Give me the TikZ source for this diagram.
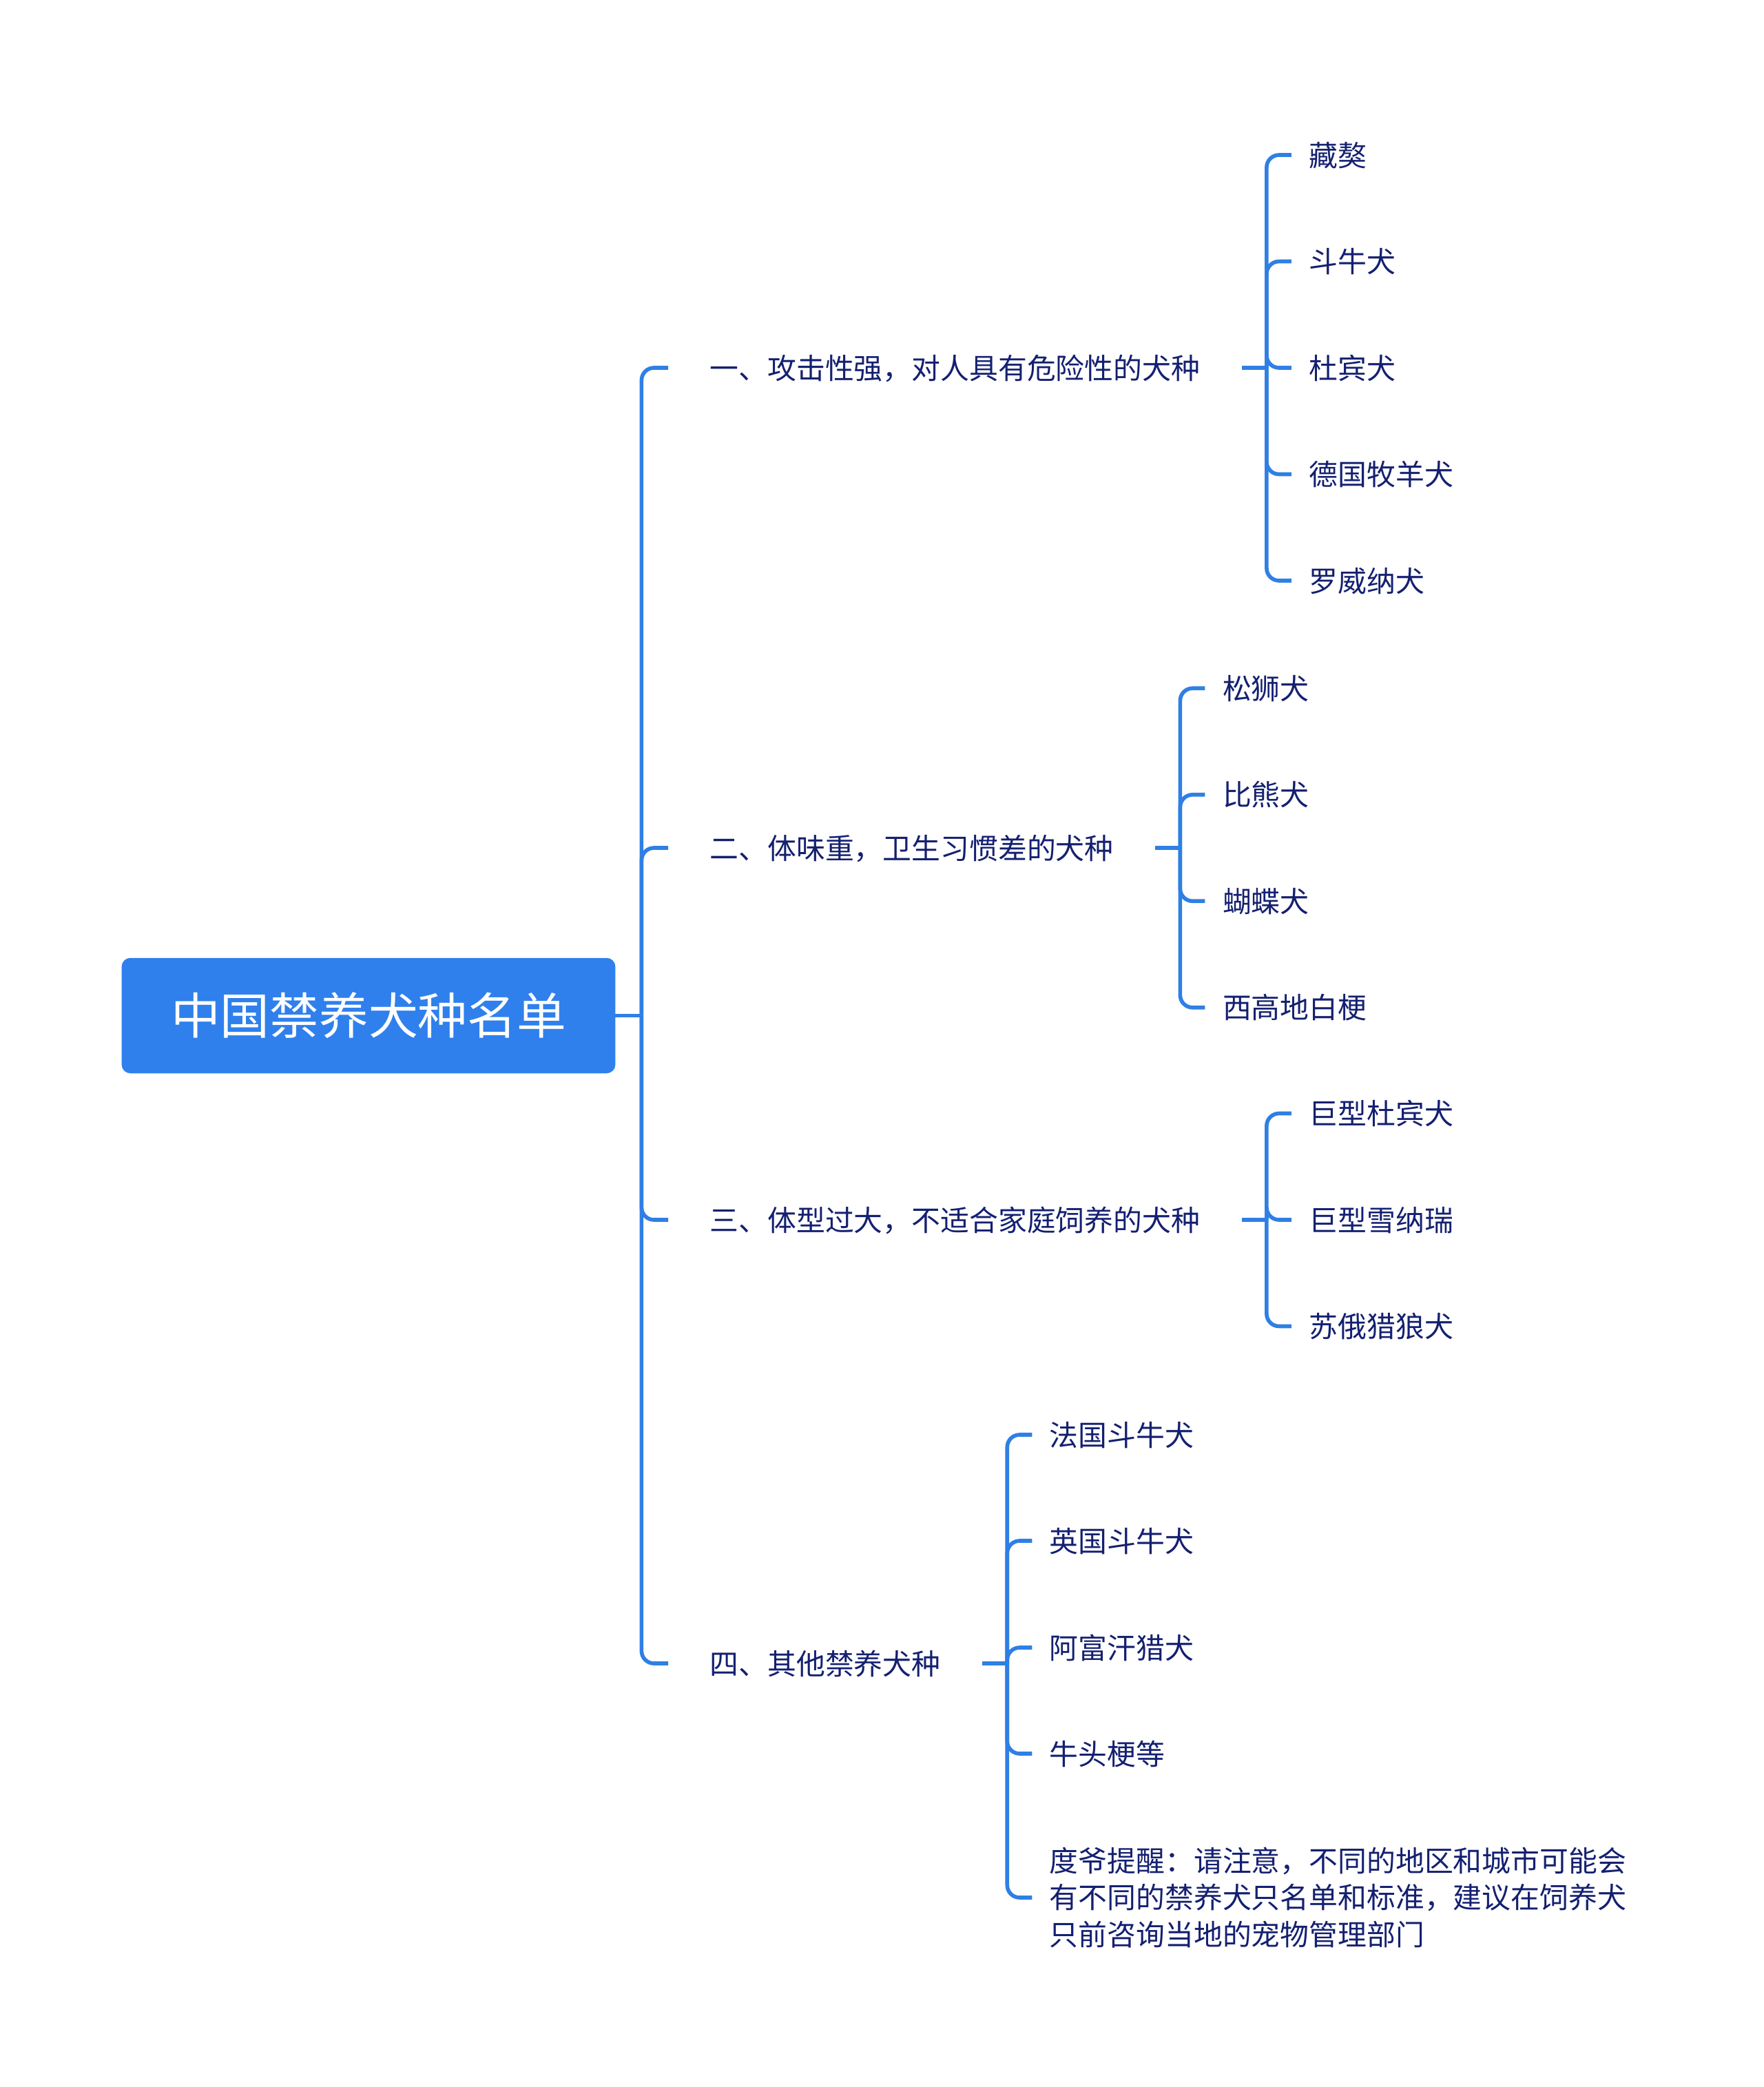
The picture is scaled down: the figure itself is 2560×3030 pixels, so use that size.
\documentclass[tikz,border=0pt]{standalone}
\usepackage{fontspec}
\newfontfamily\cjk{Noto Sans CJK SC}
\usetikzlibrary{positioning,calc}
\definecolor{linkblue}{RGB}{47,127,228}
\definecolor{rootblue}{RGB}{47,128,237}
\definecolor{inkblue}{RGB}{20,32,112}

\begin{document}
\begin{tikzpicture}[
            x=0.01cm, y=-0.01cm,
            root/.style={draw=rootblue, fill=rootblue, rounded corners=0.12cm,
                       minimum width=7.15cm, minimum height=1.66cm, text=white,
                       text height=18pt, text depth=2.4pt,
                       font=\cjk\fontsize{20.4}{24}\selectfont},
            topic/.style={anchor=west, inner xsep=0.6cm, text=inkblue,
                       text height=10.5pt, text depth=1.4pt,
                       font=\cjk\fontsize{11.9}{15.2}\selectfont},
            leaf/.style={anchor=west, inner xsep=0.25cm, text=inkblue,
                       text height=10.5pt, text depth=1.4pt,
                       font=\cjk\fontsize{11.9}{15.2}\selectfont},
            note/.style={anchor=west, inner xsep=0.25cm, text=inkblue, align=left,
                       font=\cjk\fontsize{11.9}{15.2}\selectfont},
            link/.style={draw=linkblue, line width=1.6pt, rounded corners=0.18cm}
        ]
            \useasboundingbox (0,0) rectangle (2560,3030);

            \node[root] (root) at (535,1474.5) {中国禁养犬种名单};
            \node[topic] (g1) at (970,534) {一、攻击性强，对人具有危险性的犬种};
            \node[topic] (g2) at (970,1231) {二、体味重，卫生习惯差的犬种};
            \node[topic] (g3) at (970,1771) {三、体型过大，不适合家庭饲养的犬种};
            \node[topic] (g4) at (970,2415) {四、其他禁养犬种};

            % junctions
            \coordinate (t0) at ($(root.east)+(38,0)$);
            \coordinate (j1) at ($(g1.east)+(36,0)$);
            \coordinate (j2) at ($(g2.east)+(36,0)$);
            \coordinate (j3) at ($(g3.east)+(36,0)$);
            \coordinate (j4) at ($(g4.east)+(36,0)$);
            \coordinate (c1) at ($(j1)+(36,0)$);
            \coordinate (c2) at ($(j2)+(36,0)$);
            \coordinate (c3) at ($(j3)+(36,0)$);
            \coordinate (c4) at ($(j4)+(36,0)$);

            % group 1
            \node[leaf] (d11) at (c1 |- 0,225) {藏獒};
            \node[leaf] (d12) at (c1 |- 0,379.5) {斗牛犬};
            \node[leaf] (d13) at (c1 |- 0,534) {杜宾犬};
            \node[leaf] (d14) at (c1 |- 0,688.5) {德国牧羊犬};
            \node[leaf] (d15) at (c1 |- 0,843) {罗威纳犬};

            % group 2
            \node[leaf] (d21) at (c2 |- 0,999.25) {松狮犬};
            \node[leaf] (d22) at (c2 |- 0,1153.75) {比熊犬};
            \node[leaf] (d23) at (c2 |- 0,1308.25) {蝴蝶犬};
            \node[leaf] (d24) at (c2 |- 0,1462.75) {西高地白梗};

            % group 3
            \node[leaf] (d31) at (c3 |- 0,1616.5) {巨型杜宾犬};
            \node[leaf] (d32) at (c3 |- 0,1771) {巨型雪纳瑞};
            \node[leaf] (d33) at (c3 |- 0,1925.5) {苏俄猎狼犬};

            % group 4
            \node[leaf] (d41) at (c4 |- 0,2083) {法国斗牛犬};
            \node[leaf] (d42) at (c4 |- 0,2237) {英国斗牛犬};
            \node[leaf] (d43) at (c4 |- 0,2392) {阿富汗猎犬};
            \node[leaf] (d44) at (c4 |- 0,2546) {牛头梗等};
            \node[note] (d45) at (c4 |- 0,2755) {度爷提醒：请注意，不同的地区和城市可能会\\有不同的禁养犬只名单和标准，建议在饲养犬\\只前咨询当地的宠物管理部门};

            % trunk
            \draw[link] (root.east) -- (t0);
            \draw[link] (t0) |- (g1.west);
            \draw[link] (t0) |- (g2.west);
            \draw[link] (t0) |- (g3.west);
            \draw[link] (t0) |- (g4.west);

            % branches
            \draw[link] (g1.east) -- (j1);
            \draw[link] (j1) |- (d11.west);
            \draw[link] (j1) |- (d12.west);
            \draw[link] (j1) |- (d13.west);
            \draw[link] (j1) |- (d14.west);
            \draw[link] (j1) |- (d15.west);

            \draw[link] (g2.east) -- (j2);
            \draw[link] (j2) |- (d21.west);
            \draw[link] (j2) |- (d22.west);
            \draw[link] (j2) |- (d23.west);
            \draw[link] (j2) |- (d24.west);

            \draw[link] (g3.east) -- (j3);
            \draw[link] (j3) |- (d31.west);
            \draw[link] (j3) |- (d32.west);
            \draw[link] (j3) |- (d33.west);

            \draw[link] (g4.east) -- (j4);
            \draw[link] (j4) |- (d41.west);
            \draw[link] (j4) |- (d42.west);
            \draw[link] (j4) |- (d43.west);
            \draw[link] (j4) |- (d44.west);
            \draw[link] (j4) |- (d45.west);
        \end{tikzpicture}
\end{document}
